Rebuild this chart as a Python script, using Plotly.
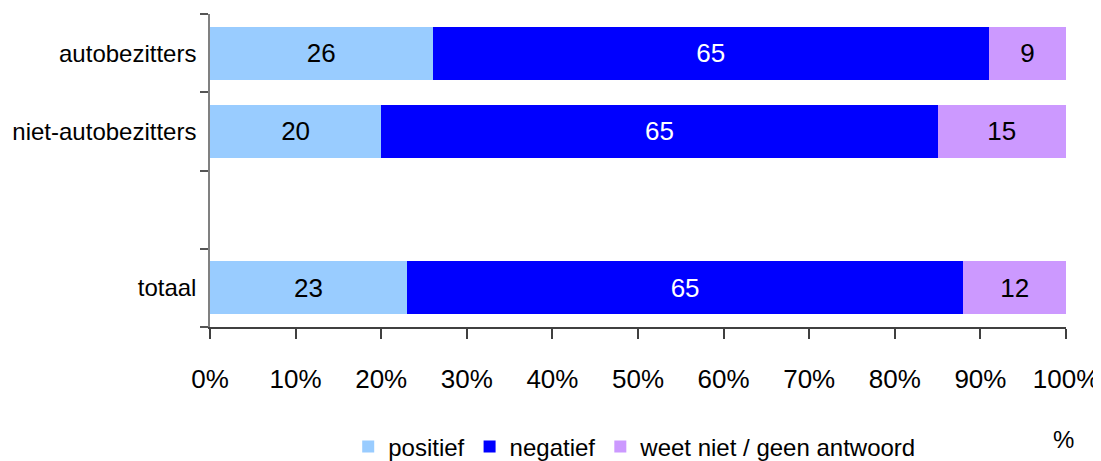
import plotly.graph_objects as go

categories = ["totaal", " ", "niet-autobezitters", "autobezitters"]
positief = [23, None, 20, 26]
negatief = [65, None, 65, 65]
weet_niet = [12, None, 15, 9]
series_names = ["positief", "negatief", "weet niet / geen antwoord"]
colors = ["#99CCFF", "#0000FF", "#CC99FF"]
text_colors = ["black", "white", "black"]
x_ticks = [0, 10, 20, 30, 40, 50, 60, 70, 80, 90, 100]
x_tick_labels = [f"{v}%" for v in x_ticks]

FONT = "Liberation Sans, Arial, sans-serif"
FS = 24

fig = go.Figure()
for name, vals, col, tcol in zip(series_names, [positief, negatief, weet_niet], colors, text_colors):
    fig.add_trace(go.Bar(
        y=categories, x=vals, name=name, orientation="h",
        marker=dict(color=col, line=dict(width=0)),
        text=["" if v is None else str(v) for v in vals],
        textposition="inside", insidetextanchor="middle",
        textfont=dict(color=tcol, size=26, family=FONT),
        hoverinfo="skip",
    ))

fig.update_layout(
    barmode="stack",
    bargap=0.32,
    width=1101, height=461,
    margin=dict(l=202, r=43, t=6, b=142),
    plot_bgcolor="white", paper_bgcolor="white",
    font=dict(family=FONT, size=FS, color="black"),
    showlegend=True,
    legend=dict(orientation="h", xref="container", yref="container",
                x=0.309, y=0.048, xanchor="left", yanchor="middle",
                font=dict(size=FS, family=FONT), traceorder="normal",
                itemwidth=30, tracegroupgap=0, bgcolor="rgba(0,0,0,0)"),
    uniformtext=dict(mode=False),
)
fig.update_xaxes(
    range=[0, 100], tickvals=x_ticks, ticktext=x_tick_labels,
    showgrid=False, zeroline=False, automargin=False,
    showline=True, linecolor="#404040", linewidth=1.5,
    ticks="outside", ticklen=10, tickcolor="#404040", tickwidth=1.5,
    ticklabelstandoff=18, ticklabeloverflow="allow",
    tickfont=dict(size=26, family=FONT),
)
fig.update_yaxes(
    type="category", categoryorder="array", categoryarray=categories,
    range=[-0.5, 3.5], automargin=False,
    tickson="boundaries", ticks="outside", ticklen=8, tickcolor="#555555", tickwidth=1.5,
    showline=True, linecolor="#808080", linewidth=1.5,
    showgrid=False, zeroline=False,
    ticklabelstandoff=7, tickfont=dict(size=FS, family=FONT),
)
fig.add_annotation(text="%", xref="paper", yref="paper", x=0.9965, y=-0.361,
                   xanchor="center", yanchor="middle", showarrow=False,
                   font=dict(size=FS, family=FONT, color="black"))

fig.write_html("out.html")
